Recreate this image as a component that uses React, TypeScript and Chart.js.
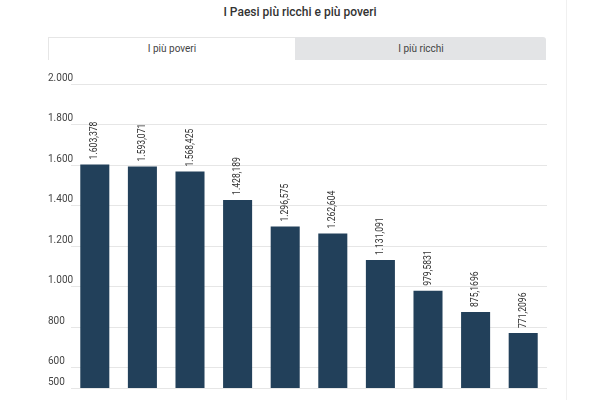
import React, { useEffect, useRef } from "react";
import { Chart, registerables } from "chart.js";

Chart.register(...registerables);

const title = "I Paesi più ricchi e più poveri";
const tabLabels = ["I più poveri", "I più ricchi"];
const categories = ["1", "2", "3", "4", "5", "6", "7", "8", "9", "10"];
const values = [1603.378, 1593.071, 1568.425, 1428.189, 1296.575, 1262.604, 1131.091, 979.5831, 875.1696, 771.2096];
const tickValues = [500, 600, 800, 1000, 1200, 1400, 1600, 1800, 2000];
const yMin = 500;
const yMax = 2000;

function formatIt(v: number): string {
  const s = String(v);
  const [intPart, frac] = s.split(".");
  const grouped = intPart.replace(/\B(?=(\d{3})+(?!\d))/g, ".");
  return frac ? grouped + "," + frac : grouped;
}

const FONT = "Roboto, 'Noto Sans', sans-serif";

const valueLabelPlugin = {
  id: "valueLabels",
  afterDatasetsDraw(chart: any) {
    const ctx = chart.ctx;
    const meta = chart.getDatasetMeta(0);
    ctx.save();
    ctx.fillStyle = "#333333";
    ctx.font = `10px ${FONT}`;
    ctx.textAlign = "left";
    ctx.textBaseline = "middle";
    meta.data.forEach((bar: any, i: number) => {
      ctx.save();
      ctx.translate(bar.x, bar.y - 5);
      ctx.rotate(-Math.PI / 2);
      ctx.scale(0.86, 1);
      ctx.fillText(formatIt(values[i]), 0, 0);
      ctx.restore();
    });
    ctx.restore();
  },
};

const yLabelPlugin = {
  id: "yLabels",
  afterDraw(chart: any) {
    const ctx = chart.ctx;
    const scale = chart.scales.y;
    ctx.save();
    ctx.fillStyle = "#444444";
    ctx.font = `10px ${FONT}`;
    ctx.textAlign = "left";
    ctx.textBaseline = "middle";
    scale.ticks.forEach((t: any) => {
      const y = scale.getPixelForValue(t.value);
      ctx.fillText(formatIt(t.value), 48, y - 6);
    });
    ctx.restore();
  },
};

export default function App() {
  const canvasRef = useRef<HTMLCanvasElement | null>(null);

  useEffect(() => {
    if (!canvasRef.current) return;
    const chart = new Chart(canvasRef.current, {
      type: "bar",
      data: {
        labels: categories,
        datasets: [
          {
            data: values,
            backgroundColor: "#22405a",
            borderWidth: 0,
            categoryPercentage: 1,
            barPercentage: 0.61,
          },
        ],
      },
      options: {
        animation: false,
        responsive: false,
        maintainAspectRatio: false,
        layout: { padding: { top: 24, bottom: 12, left: 48, right: 53 } },
        plugins: {
          legend: { display: false },
          tooltip: { enabled: false },
          title: { display: false },
        },
        scales: {
          x: {
            display: false,
            grid: { display: false },
          },
          y: {
            min: yMin,
            max: yMax,
            border: { display: false },
            grid: { color: "#e6e6e6", drawTicks: false, lineWidth: 1 },
            afterBuildTicks: (scale: any) => {
              scale.ticks = tickValues.map((v) => ({ value: v }));
            },
            afterFit: (scale: any) => {
              scale.width = 23;
            },
            ticks: { display: false },
          },
        },
      },
      plugins: [valueLabelPlugin, yLabelPlugin],
    });
    return () => chart.destroy();
  }, []);

  return (
    <div
      style={{
        position: "fixed",
        left: 0,
        top: 0,
        width: 600,
        height: 400,
        background: "#ffffff",
        overflow: "hidden",
        fontFamily: FONT,
      }}
    >
      <div
        style={{
          position: "absolute",
          left: 566,
          top: 0,
          width: 1,
          height: 400,
          background: "#f0f0f0",
        }}
      />
      <div
        style={{
          position: "absolute",
          left: 0,
          width: 600,
          top: 4,
          textAlign: "center",
          fontSize: 12,
          fontWeight: 500,
          color: "#333333",
          lineHeight: "16px",
        }}
      >
        {title}
      </div>
      <div
        style={{
          position: "absolute",
          left: 48,
          top: 37,
          width: 498,
          height: 23,
          background: "#e3e4e6",
          borderRadius: "3px 3px 0 0",
        }}
      >
        <div
          style={{
            position: "absolute",
            left: 0,
            top: 0,
            width: 247,
            height: 23,
            background: "#ffffff",
            borderLeft: "1px solid #e6e6e6",
            borderTop: "1px solid #e6e6e6",
            boxSizing: "border-box",
            textAlign: "center",
            fontSize: 10,
            lineHeight: "22px",
            color: "#444444",
          }}
        >
          {tabLabels[0]}
        </div>
        <div
          style={{
            position: "absolute",
            left: 248,
            top: 0,
            width: 250,
            height: 23,
            textAlign: "center",
            fontSize: 10,
            lineHeight: "23px",
            color: "#444444",
          }}
        >
          {tabLabels[1]}
        </div>
      </div>
      <canvas
        ref={canvasRef}
        width={600}
        height={340}
        style={{ position: "absolute", left: 0, top: 60, width: 600, height: 340 }}
      />
    </div>
  );
}
